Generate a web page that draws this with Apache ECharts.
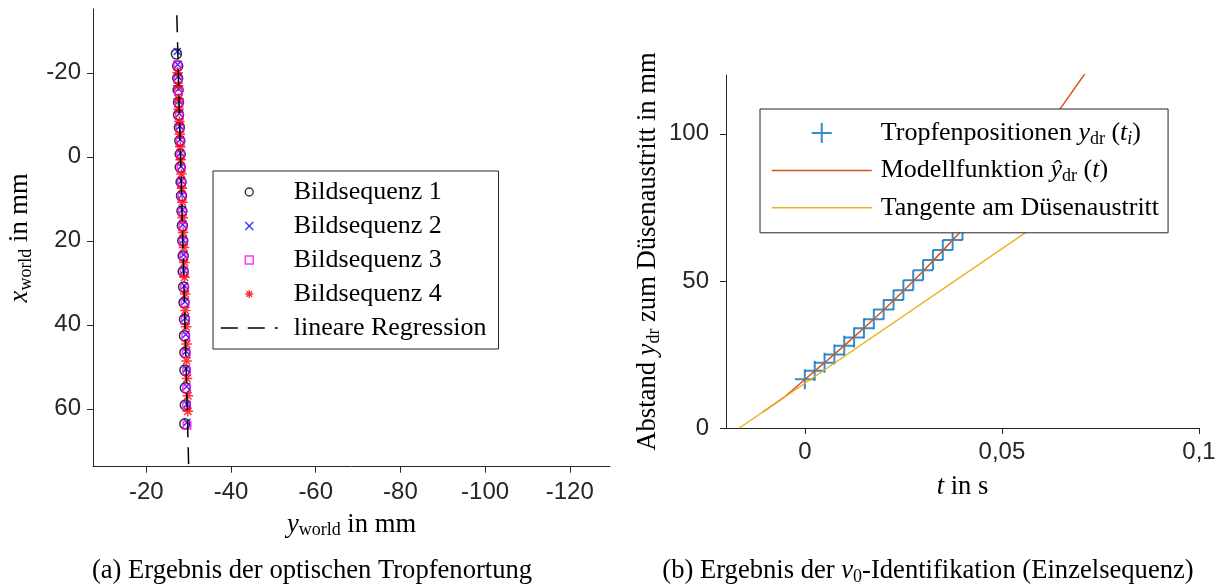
<!DOCTYPE html>
<html><head><meta charset="utf-8">
<script src="https://cdn.jsdelivr.net/npm/echarts@6/dist/echarts.min.js"></script>
<style>html,body{margin:0;padding:0;background:#fff}#c{width:1221px;height:587px}</style>
</head><body><div id="c"></div>
<script>
// ---------- (a) optical droplet localisation: y_world (horizontal) / x_world (vertical), mm ----------
const seq1Y = [-27.1,-27.4,-27.4,-27.5,-27.6,-27.6,-27.8,-27.9,-28.0,-28.0,-28.2,-28.3,-28.4,-28.5,-28.6,-28.7,-28.7,-28.8,-28.9,-29.0,-29.0,-29.1,-29.1,-29.2,-29.2,-29.1];
const seq1X = [-24.5,-21.6,-18.7,-15.9,-13.0,-10.0,-7.0,-3.8,-0.6,2.5,6.0,9.3,12.9,16.4,20.0,23.6,27.3,31.0,34.7,38.7,42.6,46.6,50.8,55.0,59.1,63.6];
const seq2Y = [-27.3,-27.4,-27.5,-27.6,-27.7,-27.8,-27.9,-28.0,-28.1,-28.2,-28.3,-28.4,-28.5,-28.6,-28.7,-28.8,-28.9,-29.0,-29.1,-29.2,-29.3,-29.4,-29.4,-29.5,-29.6,-29.6];
const seq2X = [-25.1,-22.0,-19.1,-16.2,-13.3,-10.3,-7.3,-4.1,-0.9,2.3,5.7,9.1,12.6,16.2,19.8,23.3,27.0,30.7,34.5,38.4,42.3,46.3,50.5,54.7,58.9,63.2];
const seq3Y = [-27.4,-27.5,-27.6,-27.7,-27.8,-27.9,-28.0,-28.1,-28.2,-28.3,-28.4,-28.5,-28.6,-28.7,-28.8,-28.9,-29.0,-29.1,-29.2,-29.3,-29.4,-29.5,-29.5,-29.5,-29.6];
const seq3X = [-21.9,-18.4,-15.6,-12.7,-9.7,-6.7,-3.5,-0.3,2.8,6.3,9.6,13.2,16.7,20.3,23.9,27.6,31.3,35.0,39.0,42.9,46.9,51.1,55.3,59.4,63.9];
const seq4Y = [-27.4,-27.5,-27.6,-27.6,-27.8,-27.9,-28.0,-28.1,-28.3,-28.4,-28.5,-28.6,-28.7,-28.9,-29.0,-29.0,-29.2,-29.2,-29.4,-29.5,-29.5,-29.6,-29.8,-29.8];
const seq4X = [-20.0,-16.9,-13.8,-11.3,-8.4,-5.4,-2.4,0.7,4.1,7.5,10.8,14.5,18.0,21.6,25.2,28.7,32.7,36.6,40.5,44.6,48.6,52.8,56.9,60.6];
const regY = [-27.2,-30.0];
const regX = [-33.7,73.8];
const leftXTicks = [-20,-40,-60,-80,-100,-120];
const leftYTicks = [-20,0,20,40,60];
const leftNames = ['Bildsequenz 1','Bildsequenz 2','Bildsequenz 3','Bildsequenz 4','lineare Regression'];

// ---------- (b) v0 identification ----------
const tPos = [0,0.0025,0.005,0.0075,0.01,0.0125,0.015,0.0175,0.02,0.0225,0.025,0.0275,0.03,0.0325,0.035,0.0375,0.04,0.0425,0.045,0.0475,0.05];
const yPos = [16.6,19.5,22.2,25.0,28.0,30.8,33.9,37.0,40.3,43.5,46.8,50.2,53.6,57.1,60.5,63.9,67.2,70.8,74.4,78.1,81.9];
const tModel = [-0.0108,-0.005,0,0.005,0.01,0.015,0.02,0.025,0.03,0.035,0.04,0.045,0.05,0.055,0.06,0.065,0.0715];
const yModel = [5.3,10.7,16.5,22.2,28.0,34.0,40.1,46.6,53.3,60.3,67.5,75.0,83.0,91.3,99.8,108.9,121.3];
const tTan = [-0.0166,0.0715];
const yTan = [0,80.6];
const rightXTicks = [0,0.05,0.1];
const rightYTicks = [0,50,100];
const rightNames = ['Tropfenpositionen','Modellfunktion','Tangente am Düsenaustritt'];

const zip = (a,b) => a.map((v,i)=>[v,b[i]]);
const SERIF = 'Liberation Serif', SANS = 'Liberation Sans', AX = '#262626';
function richSet(fs){
  const sub = Math.round(fs*0.69);
  return {
    n:{fontFamily:SERIF,fontSize:fs,lineHeight:30,color:'#000'},
    i:{fontFamily:SERIF,fontStyle:'italic',fontSize:fs,lineHeight:30,color:'#000'},
    s:{fontFamily:SERIF,fontSize:sub,lineHeight:14,verticalAlign:'bottom',color:'#000'},
    si:{fontFamily:SERIF,fontStyle:'italic',fontSize:sub,lineHeight:14,verticalAlign:'bottom',color:'#000'},
    g:{fontFamily:SERIF,fontSize:fs,lineHeight:30,width:11},
    g2:{fontFamily:SERIF,fontSize:fs,lineHeight:30,width:4}
  };
}
const R = richSet(26);
const RT = richSet(26.6);
const comma = v => String(v).replace('.', ',');
function axisCommon(ticks, margin){
  return {
    axisLine:{show:true,onZero:false,lineStyle:{color:AX,width:1}},
    axisTick:{show:true,inside:false,length:6,lineStyle:{color:AX,width:1},customValues:ticks},
    axisLabel:{customValues:ticks,fontFamily:SANS,fontSize:24,color:AX,margin:margin,formatter:comma},
    splitLine:{show:false}
  };
}
const PATH_X = 'path://M0,0L10,10M10,0L0,10';
const PATH_SQ = 'path://M0,0L10,0L10,10L0,10Z';
const PATH_STAR = 'path://M5,0L5,10M0,5L10,5M1.5,1.5L8.5,8.5M8.5,1.5L1.5,8.5';
const PATH_PLUS = 'path://M0,5L10,5M5,0L5,10';
const hideSym = {opacity:0,borderWidth:0,color:'transparent'};

const chart = echarts.init(document.getElementById('c'), null, {renderer:'canvas'});
chart.setOption({
  animation:false,
  backgroundColor:'#fff',
  grid:[
    {left:93,top:9,width:517,height:457.7},
    {left:726,top:75,width:473,height:353}
  ],
  xAxis:[
    Object.assign({type:'value',gridIndex:0,inverse:true,min:-129.5,max:-7.4,
      name:'{i|y}{s|world}{n| in mm}',nameLocation:'middle',nameGap:43,nameTextStyle:{rich:RT}},
      axisCommon(leftXTicks,14)),
    Object.assign({type:'value',gridIndex:1,min:-0.02,max:0.1,
      name:'{i|t}{n| in s}',nameLocation:'middle',nameGap:44,nameTextStyle:{rich:RT}},
      axisCommon(rightXTicks,12))
  ],
  yAxis:[
    Object.assign({type:'value',gridIndex:0,inverse:true,min:-35.2,max:73.8,
      name:'{i|x}{s|world}{n| in mm}',nameLocation:'middle',nameGap:58,nameRotate:90,nameTextStyle:{rich:RT}},
      axisCommon(leftYTicks,12)),
    Object.assign({type:'value',gridIndex:1,min:0,max:120,
      name:'{n|Abstand }{i|y}{s|dr}{n| zum Düsenaustritt in mm}',nameLocation:'middle',nameGap:63,nameRotate:90,nameTextStyle:{rich:RT}},
      axisCommon(rightYTicks,17))
  ],
  legend:[
    {data:[leftNames[0],leftNames[1],leftNames[2],leftNames[3],{name:leftNames[4],itemStyle:hideSym}],
     left:213,top:171,orient:'vertical',selectedMode:false,
     backgroundColor:'#fff',borderColor:AX,borderWidth:1,borderRadius:0,padding:[8,12,8,7],
     itemWidth:57,itemHeight:8,itemGap:8,
     itemStyle:{borderWidth:1.4},
     lineStyle:{width:1.5,type:[17,10]},
     formatter:n=>'{g| }{n|'+n+'}',
     textStyle:{rich:R,fontFamily:SERIF,fontSize:26,color:'#000'}},
    {data:[rightNames[0],{name:rightNames[1],itemStyle:hideSym},{name:rightNames[2],itemStyle:hideSym}],
     left:760,top:109,orient:'vertical',selectedMode:false,
     backgroundColor:'#fff',borderColor:AX,borderWidth:1,borderRadius:0,padding:[11,9,12,11],
     itemWidth:100,itemHeight:20,itemGap:9.4,
     itemStyle:{borderWidth:2},
     lineStyle:{width:1.5},
     formatter:function(n){
       if(n==='Tropfenpositionen') return '{g2| }{n|Tropfenpositionen }{i|y}{s|dr}{n| (}{i|t}{si|i}{n|)}';
       if(n==='Modellfunktion') return '{g2| }{n|Modellfunktion }{i|ŷ}{s|dr}{n| (}{i|t}{n|)}';
       return '{g2| }{n|'+n+'}';
     },
     textStyle:{rich:R,fontFamily:SERIF,fontSize:26,color:'#000'}}
  ],
  series:[
    {name:leftNames[0],type:'scatter',xAxisIndex:0,yAxisIndex:0,data:zip(seq1Y,seq1X),symbol:'circle',symbolSize:10,
     itemStyle:{color:'transparent',borderColor:'#000000',borderWidth:1.5}},
    {name:leftNames[1],type:'scatter',xAxisIndex:0,yAxisIndex:0,data:zip(seq2Y,seq2X),symbol:PATH_X,symbolSize:7,
     itemStyle:{color:'transparent',borderColor:'#0000ff',borderWidth:1.5}},
    {name:leftNames[2],type:'scatter',xAxisIndex:0,yAxisIndex:0,data:zip(seq3Y,seq3X),symbol:PATH_SQ,symbolSize:7.5,
     itemStyle:{color:'transparent',borderColor:'#ff00ff',borderWidth:1.5}},
    {name:leftNames[3],type:'scatter',xAxisIndex:0,yAxisIndex:0,data:zip(seq4Y,seq4X),symbol:PATH_STAR,symbolSize:10.5,
     itemStyle:{color:'transparent',borderColor:'#ff0000',borderWidth:1.5}},
    {name:leftNames[4],type:'line',xAxisIndex:0,yAxisIndex:0,data:zip(regY,regX),symbol:'none',
     lineStyle:{color:'#000000',width:1.5,type:[17,10]},itemStyle:{color:'#000000'}},
    {name:rightNames[0],type:'scatter',xAxisIndex:1,yAxisIndex:1,data:zip(tPos,yPos),symbol:PATH_PLUS,symbolSize:20,
     itemStyle:{color:'transparent',borderColor:'#0072BD',borderWidth:2}},
    {name:rightNames[1],type:'line',xAxisIndex:1,yAxisIndex:1,data:zip(tModel,yModel),symbol:'none',
     lineStyle:{color:'#D95319',width:1.5},itemStyle:{color:'#D95319'}},
    {name:rightNames[2],type:'line',xAxisIndex:1,yAxisIndex:1,data:zip(tTan,yTan),symbol:'none',
     lineStyle:{color:'#EDB120',width:1.5},itemStyle:{color:'#EDB120'}}
  ],
  graphic:[
    {type:'text',x:312,y:571,style:{text:'{n|(a) Ergebnis der optischen Tropfenortung}',rich:RT,align:'center',verticalAlign:'middle'}},
    {type:'text',x:928,y:571,style:{text:'{n|(b) Ergebnis der }{i|v}{s|0}{n|-Identifikation (Einzelsequenz)}',rich:RT,align:'center',verticalAlign:'middle'}}
  ]
});
</script></body></html>
